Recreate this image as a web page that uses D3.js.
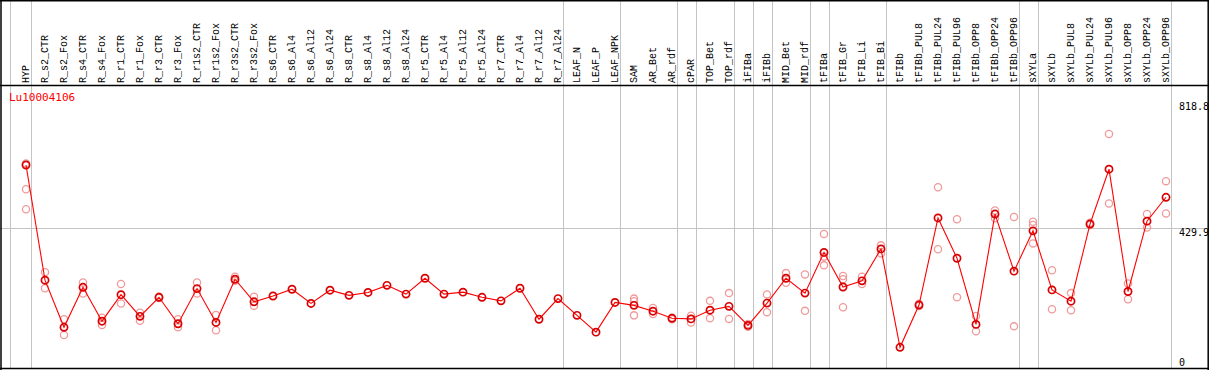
<!DOCTYPE html>
<html>
<head>
<meta charset="utf-8">
<script src="https://cdn.jsdelivr.net/npm/d3@7/dist/d3.min.js"></script>
<style>
  body { margin: 0; background: #fff; }
  svg { display: block; }
  text { font-family: "DejaVu Sans Mono", "Liberation Mono", monospace; }
  .sample-label { font-family: "Liberation Mono", "DejaVu Sans Mono", monospace; }
</style>
</head>
<body>
<svg id="chart" width="1209" height="370"></svg>
<script>
// Expression profile, one gene across samples
var geneId = 'Lu10004106';

var categories = [
  'HYP',
  'R_s2_CTR', 'R_s2_Fox', 'R_s4_CTR', 'R_s4_Fox', 'R_r1_CTR', 'R_r1_Fox',
  'R_r3_CTR', 'R_r3_Fox', 'R_r1s2_CTR', 'R_r1s2_Fox', 'R_r3s2_CTR', 'R_r3s2_Fox',
  'R_s6_CTR', 'R_s6_Al4', 'R_s6_Al12', 'R_s6_Al24', 'R_s8_CTR', 'R_s8_Al4',
  'R_s8_Al12', 'R_s8_Al24', 'R_r5_CTR', 'R_r5_Al4', 'R_r5_Al12', 'R_r5_Al24',
  'R_r7_CTR', 'R_r7_Al4', 'R_r7_Al12', 'R_r7_Al24',
  'LEAF_N', 'LEAF_P', 'LEAF_NPK',
  'SAM', 'AR_Bet', 'AR_rdf', 'cPAR', 'TOP_Bet', 'TOP_rdf', 'iFIBa', 'iFIBb',
  'MID_Bet', 'MID_rdf', 'tFIBa', 'tFIB_Gr', 'tFIB_Li', 'tFIB_Bi',
  'tFIBb', 'tFIBb_PUL8', 'tFIBb_PUL24', 'tFIBb_PUL96', 'tFIBb_OPP8', 'tFIBb_OPP24', 'tFIBb_OPP96',
  'sXYLa', 'sXYLb', 'sXYLb_PUL8', 'sXYLb_PUL24', 'sXYLb_PUL96', 'sXYLb_OPP8', 'sXYLb_OPP24', 'sXYLb_OPP96'
];

var mainValues = [
  626,
  269, 123, 247, 142, 224, 157,
  216, 134, 243, 138, 272, 202,
  220, 241, 197, 238, 222, 231,
  253, 226, 275, 226, 232, 216,
  205, 244, 148, 212,
  160, 108, 200,
  191, 173, 151, 149, 176, 188, 129, 198,
  275, 229, 355, 248, 267, 366,
  61, 192, 462, 337, 132, 474, 297,
  422, 239, 204, 443, 613, 234, 452, 526
];

// individual replicates, one list per sample (empty when not shown)
var replicates = [
  [631, 551, 489],
  [294, 244], [148, 99], [262, 228], [153, 130], [257, 197], [168, 143],
  [218, 214], [148, 123], [262, 228], [161, 114], [280, 267], [218, 190],
  [], [], [], [], [], [],
  [], [], [], [], [], [],
  [], [], [], [],
  [], [], [],
  [212, 204, 160], [183, 164], [153, 148], [159, 138], [205, 151], [229, 149], [133, 125], [225, 170],
  [291, 261], [287, 174], [412, 342, 315], [282, 272, 185], [280, 257], [377, 352],
  [], [196, 189], [557, 365], [458, 216], [158, 111], [485, 461], [465, 126],
  [450, 440, 383], [300, 179], [229, 176], [447, 440], [722, 507], [259, 210], [474, 432], [576, 476]
];

// samples after which a group separator is drawn
var groupEnds = ['HYP', 'R_r7_Al24', 'LEAF_NPK', 'AR_rdf', 'cPAR', 'TOP_rdf', 'iFIBa', 'iFIBb',
  'MID_rdf', 'tFIBa', 'tFIB_Bi', 'tFIBb_OPP96', 'sXYLa', 'sXYLb_OPP96'];

var yTicks = [0, 429.9, 818.8];

(function () {
  'use strict';

  var W = 1209, H = 370;
  var headerBottom = 85.5;
  var plotBottom = 368.5;

  var GRID = '#c4c4c4';
  var LINE = '#ff0000';
  var DOT = '#d80000';
  var REP = '#f09a9a';

  var svg = d3.select('#chart');

  var x = d3.scalePoint().domain(categories).range([26, 1166]);
  var y = d3.scaleLinear().domain([0, 818.8]).range([367, 102.8]);

  svg.append('rect').attr('width', W).attr('height', H).attr('fill', '#fff');

  // vertical group separators (full height)
  var sepX = [x('HYP') - 16].concat(groupEnds.map(function (c) { return x(c) + 4.5; }));
  svg.append('g').selectAll('line')
    .data(sepX)
    .join('line')
    .attr('x1', function (d) { return Math.round(d) + 0.5; })
    .attr('x2', function (d) { return Math.round(d) + 0.5; })
    .attr('y1', 0)
    .attr('y2', plotBottom)
    .attr('stroke', GRID)
    .attr('stroke-width', 1);

  // horizontal mid gridline
  svg.append('line')
    .attr('x1', 0).attr('x2', 1208)
    .attr('y1', Math.round(y(429.9)) + 0.5)
    .attr('y2', Math.round(y(429.9)) + 0.5)
    .attr('stroke', GRID);

  // frame
  var frame = svg.append('g').attr('stroke', '#000').attr('stroke-width', 1.5);
  frame.append('line').attr('x1', 0).attr('x2', W).attr('y1', 0.75).attr('y2', 0.75);
  frame.append('line').attr('x1', 0).attr('x2', W).attr('y1', headerBottom).attr('y2', headerBottom);
  frame.append('line').attr('x1', 0).attr('x2', W).attr('y1', plotBottom).attr('y2', plotBottom);
  frame.append('line').attr('x1', 1).attr('x2', 1).attr('y1', 0).attr('y2', H);
  frame.append('line').attr('x1', 1208.2).attr('x2', 1208.2).attr('y1', 0).attr('y2', H);

  // rotated sample labels
  svg.append('g').selectAll('text')
    .data(categories)
    .join('text')
    .attr('class', 'sample-label')
    .attr('transform', function (d) { return 'translate(' + (x(d) + 3) + ',83) rotate(-90)'; })
    .attr('font-size', 10)
    .attr('fill', '#000')
    .text(function (d) { return d; });

  // title
  svg.append('text')
    .attr('x', 9)
    .attr('y', 101)
    .attr('font-size', 11)
    .attr('fill', '#ff0000')
    .text(geneId);

  // right axis labels
  svg.append('g').selectAll('text')
    .data(yTicks)
    .join('text')
    .attr('x', 1179)
    .attr('y', function (d) {
      if (d === 0) return y(d) - 1;
      return y(d) + 7.6;
    })
    .attr('font-size', 10)
    .attr('fill', '#000')
    .text(function (d) { return d === 0 ? '0' : d3.format('.1f')(d); });

  // replicate dots
  var repPts = [];
  replicates.forEach(function (list, i) {
    list.forEach(function (v) { repPts.push({ c: categories[i], v: v }); });
  });
  svg.append('g').selectAll('circle')
    .data(repPts)
    .join('circle')
    .attr('cx', function (d) { return x(d.c); })
    .attr('cy', function (d) { return y(d.v); })
    .attr('r', 3.6)
    .attr('fill', 'none')
    .attr('stroke', REP)
    .attr('stroke-width', 1.3);

  // main profile line
  var pts = categories.map(function (c, i) { return { c: c, v: mainValues[i] }; });
  svg.append('path')
    .datum(pts)
    .attr('fill', 'none')
    .attr('stroke', LINE)
    .attr('stroke-width', 1.1)
    .attr('d', d3.line()
      .x(function (d) { return x(d.c); })
      .y(function (d) { return y(d.v); }));

  svg.append('g').selectAll('circle')
    .data(pts)
    .join('circle')
    .attr('cx', function (d) { return x(d.c); })
    .attr('cy', function (d) { return y(d.v); })
    .attr('r', 3.6)
    .attr('fill', 'none')
    .attr('stroke', DOT)
    .attr('stroke-width', 1.7);
})();
</script>
</body>
</html>
